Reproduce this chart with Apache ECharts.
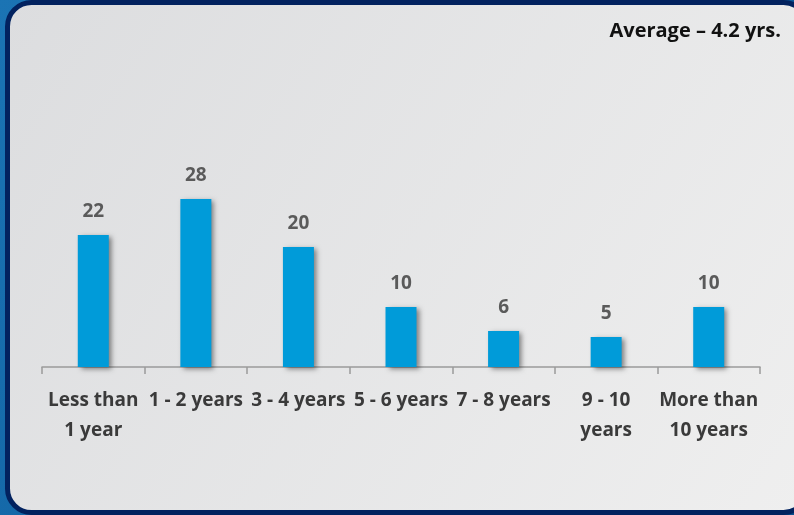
<!DOCTYPE html>
<html>
<head>
<meta charset="utf-8">
<script src="https://cdn.jsdelivr.net/npm/echarts@6/dist/echarts.min.js"></script>
<style>
  html, body { margin: 0; padding: 0; background: #0d5c9e; }
  #chart { width: 794px; height: 515px; }
</style>
</head>
<body>
<div id="chart"></div>
<script>
// Years of experience distribution
const categories = [
  'Less than\n1 year',
  '1 - 2 years',
  '3 - 4 years',
  '5 - 6 years',
  '7 - 8 years',
  '9 - 10\nyears',
  'More than\n10 years'
];
const shares = [22, 28, 20, 10, 6, 5, 10];
const averageNote = 'Average \u2013 4.2 yrs.';

const FONT = '"Open Sans", Lato, sans-serif';

const chart = echarts.init(document.getElementById('chart'), null, { renderer: 'canvas' });

chart.setOption({
  animation: false,
  backgroundColor: {
    type: 'linear', x: 0, y: 0, x2: 1, y2: 1,
    colorStops: [
      { offset: 0, color: '#1b74b4' },
      { offset: 1, color: '#08508f' }
    ]
  },
  graphic: [
    {
      type: 'rect',
      z: -10,
      shape: { x: 7.5, y: 2.5, width: 800, height: 510, r: 24 },
      style: {
        fill: {
          type: 'linear', x: 0, y: 0, x2: 1, y2: 1,
          colorStops: [
            { offset: 0, color: '#dcdddf' },
            { offset: 1, color: '#efefef' }
          ]
        },
        stroke: '#02225f',
        lineWidth: 5
      }
    },
    {
      type: 'text',
      z: 10,
      x: 781,
      y: 31,
      style: {
        text: averageNote,
        align: 'right',
        verticalAlign: 'middle',
        fill: '#111111',
        font: 'bold 20px ' + FONT
      }
    }
  ],
  grid: { left: 42, right: 34, top: 67, bottom: 148 },
  xAxis: {
    type: 'category',
    data: categories,
    axisLine: { show: true, lineStyle: { color: '#9a9a9a', width: 1.5 } },
    axisTick: { show: true, length: 7, lineStyle: { color: '#9a9a9a', width: 1.5 } },
    axisLabel: {
      interval: 0,
      margin: 19,
      color: '#3a3a3a',
      fontFamily: FONT,
      fontWeight: 'bold',
      fontSize: 19,
      lineHeight: 30
    }
  },
  yAxis: {
    type: 'value',
    min: 0,
    max: 50,
    show: false,
    splitLine: { show: false }
  },
  series: [{
    type: 'bar',
    data: shares,
    barWidth: 31,
    itemStyle: {
      color: '#009bd9',
      shadowColor: 'rgba(0,0,0,0.45)',
      shadowBlur: 5,
      shadowOffsetX: 3,
      shadowOffsetY: 2
    },
    label: {
      show: true,
      position: 'top',
      distance: 14,
      color: '#5a5a5a',
      fontFamily: FONT,
      fontWeight: 'bold',
      fontSize: 19
    }
  }]
});
</script>
</body>
</html>
